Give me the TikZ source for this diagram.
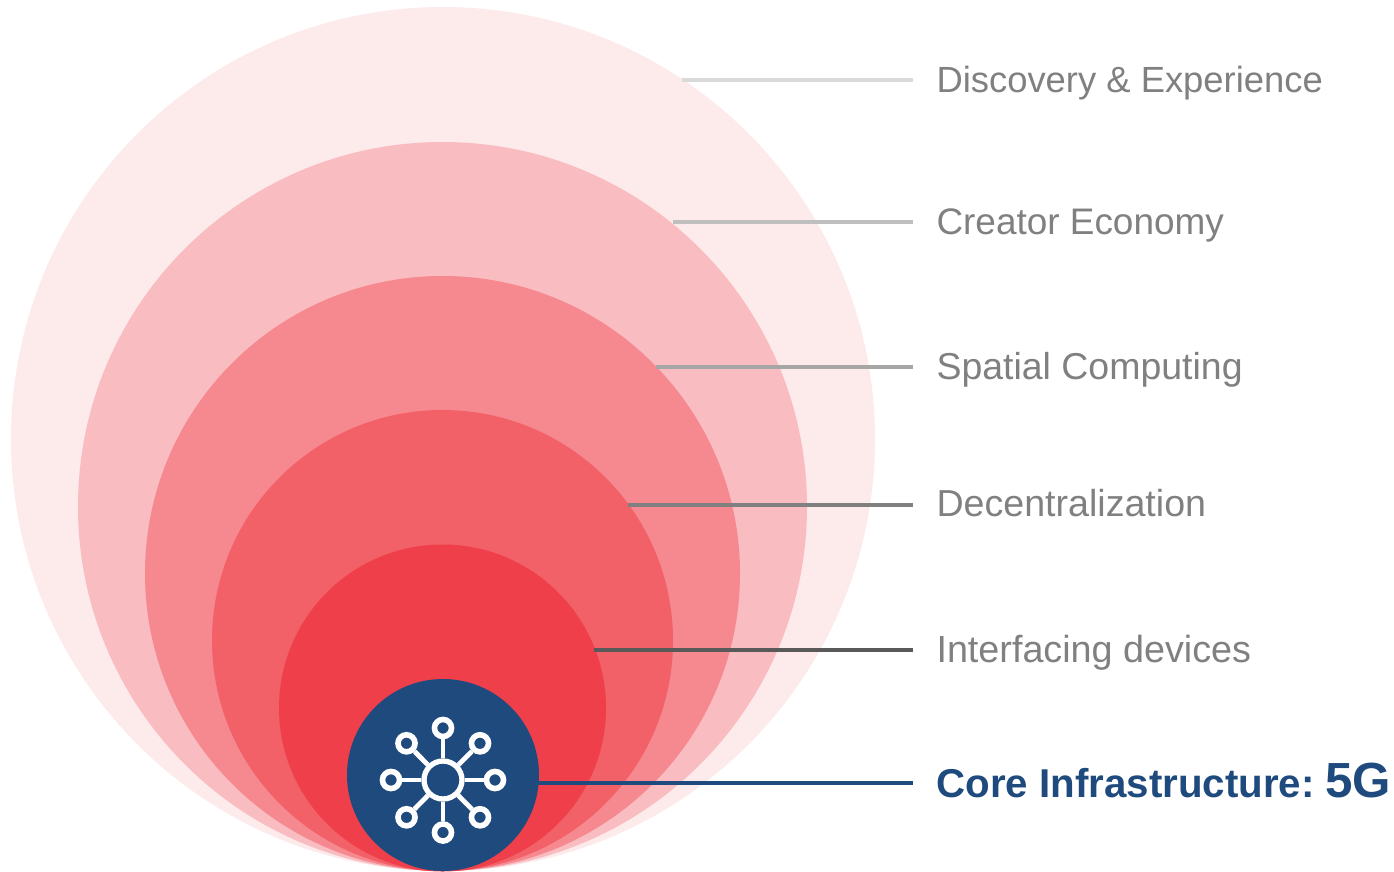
\documentclass[tikz,border=0pt]{standalone}
\usepackage{fontspec}
\setmainfont{Liberation Sans}
\definecolor{c1}{HTML}{FDEAEB}
\definecolor{c2}{HTML}{F9BCC0}
\definecolor{c3}{HTML}{F6888F}
\definecolor{c4}{HTML}{F26068}
\definecolor{c5}{HTML}{EF3F4A}
\definecolor{navy}{HTML}{1F4A7D}
\definecolor{lab}{HTML}{808080}
\tikzset{
  px/.style={x=0.75pt,y=-0.75pt},
  ring/.style={circle,inner sep=0pt,outer sep=0pt,minimum size=#1*1.5pt},
  label/.style={anchor=base west,inner sep=0pt,outer sep=0pt,text=lab,font=\fontsize{#1pt}{32pt}\selectfont},
  core/.style={anchor=base west,inner sep=0pt,outer sep=0pt,text=navy,font=\fontsize{#1pt}{40pt}\selectfont\bfseries},
  leader/.style={line width=#1*0.75pt},
  sat/.style={circle,draw=white,line width=4.2pt,inner sep=0pt,minimum size=12.8pt,fill=navy},
  hub/.style={circle,draw=white,line width=4pt,inner sep=0pt,minimum size=28.5pt,fill=navy},
  spoke/.style={draw=white,line width=3.6pt},
}
\begin{document}
\begin{tikzpicture}[px]
\useasboundingbox (0,0) rectangle (1394,871);
\node[ring=432,fill=c1] (r1) at (443,439) {};
\node[ring=364.5,fill=c2] (r2) at (442.5,506.5) {};
\node[ring=297.5,fill=c3] (r3) at (442.5,573.5) {};
\node[ring=230.5,fill=c4] (r4) at (442.5,640.5) {};
\node[ring=163.5,fill=c5] (r5) at (442.5,708) {};
\node[ring=96,fill=navy] (r6) at (443,775) {};
% labels
\node[label=27.3] (l1) at (936.5,92) {Discovery \& Experience};
\node[label=27.7] (l2) at (936.5,234) {Creator Economy};
\node[label=28.1] (l3) at (936.5,379) {Spatial Computing};
\node[label=28.2] (l4) at (936.5,516) {Decentralization};
\node[label=28.3] (l5) at (936.5,662) {Interfacing devices};
\node[core=30.2] (l6) at (936.5,797) {Core Infrastructure:};
\node[core=37] (g5) at (1325,797) {5G};
% connector ends
\coordinate (s1) at (682,80);  \coordinate (e1) at (913,80);
\coordinate (s2) at (673,222); \coordinate (e2) at (913,222);
\coordinate (s3) at (656,367); \coordinate (e3) at (913,367);
\coordinate (s4) at (628,505); \coordinate (e4) at (913,505);
\coordinate (s5) at (594,650); \coordinate (e5) at (913,650);
\coordinate (s6) at (538,783); \coordinate (e6) at (913,783);
\draw[leader=4,draw=black!15] (s1) -- (e1);
\draw[leader=4,draw=black!25] (s2) -- (e2);
\draw[leader=4,draw=black!35] (s3) -- (e3);
\draw[leader=4,draw=black!50] (s4) -- (e4);
\draw[leader=4,draw=black!65] (s5) -- (e5);
\draw[leader=3.5,draw=navy] (s6) -- (e6);
% icon
\node[hub] (h) at (443,780) {};
\node[sat] (a1) at (443,728) {};
\node[sat] (a2) at (480,743.3) {};
\node[sat] (a3) at (495,780) {};
\node[sat] (a4) at (480,817.3) {};
\node[sat] (a5) at (443,832.5) {};
\node[sat] (a6) at (406.5,817.3) {};
\node[sat] (a7) at (391,780) {};
\node[sat] (a8) at (406.5,743.3) {};
\foreach \n in {a1,a2,a3,a4,a5,a6,a7,a8} \draw[spoke] (h) -- (\n);
\end{tikzpicture}
\end{document}
